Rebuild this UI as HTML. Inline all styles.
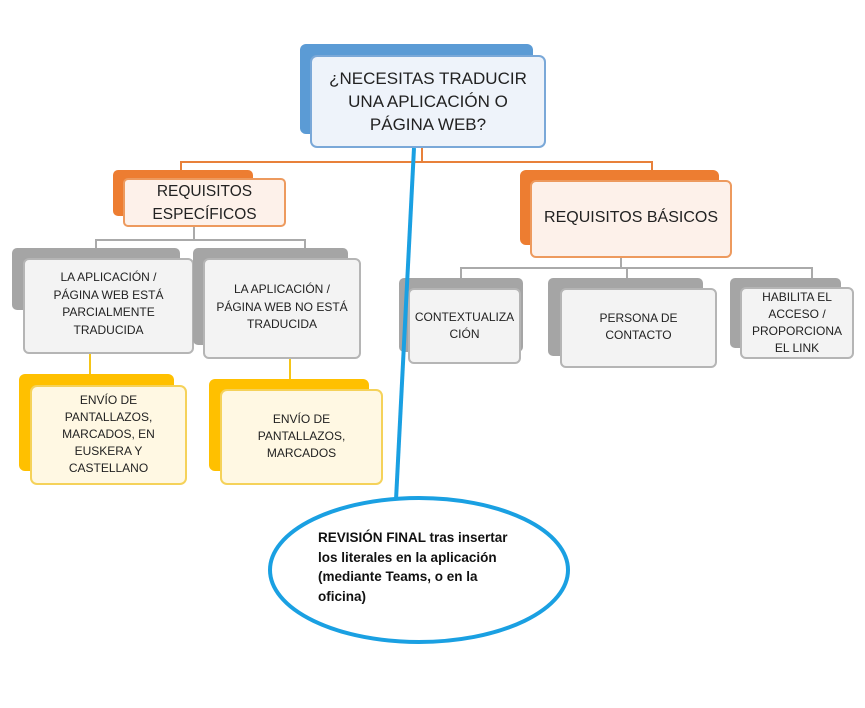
<!DOCTYPE html>
<html><head><meta charset="utf-8"><style>
body{margin:0;width:865px;height:708px;background:#fff;position:relative;overflow:hidden;font-family:"Liberation Sans",sans-serif;}
.a{position:absolute;box-sizing:border-box;}
.t{text-align:center;color:#222;white-space:nowrap;}
.ln{position:absolute;}
</style></head><body>
<!-- connectors -->
<div class="ln" style="left:421px;top:147px;width:2px;height:15px;background:#e8813a"></div>
<div class="ln" style="left:180px;top:161px;width:473px;height:2px;background:#e8813a"></div>
<div class="ln" style="left:180px;top:161px;width:2px;height:12px;background:#e8813a"></div>
<div class="ln" style="left:651px;top:161px;width:2px;height:12px;background:#e8813a"></div>

<div class="ln" style="left:193px;top:226px;width:2px;height:14px;background:#aaa"></div>
<div class="ln" style="left:95px;top:239px;width:211px;height:2px;background:#aaa"></div>
<div class="ln" style="left:95px;top:239px;width:2px;height:10px;background:#aaa"></div>
<div class="ln" style="left:304px;top:239px;width:2px;height:10px;background:#aaa"></div>

<div class="ln" style="left:620px;top:257px;width:2px;height:11px;background:#aaa"></div>
<div class="ln" style="left:460px;top:267px;width:353px;height:2px;background:#aaa"></div>
<div class="ln" style="left:460px;top:267px;width:2px;height:12px;background:#aaa"></div>
<div class="ln" style="left:626px;top:267px;width:2px;height:12px;background:#aaa"></div>
<div class="ln" style="left:811px;top:267px;width:2px;height:12px;background:#aaa"></div>

<div class="ln" style="left:89px;top:353px;width:2px;height:21px;background:#f5c518"></div>
<div class="ln" style="left:289px;top:358px;width:2px;height:21px;background:#f5c518"></div>

<!-- top -->
<div class="a" style="left:300px;top:44px;width:233px;height:90px;background:#5b9bd5;border-radius:6px"></div>
<div class="a t" style="left:310px;top:55px;width:236px;height:93px;background:#eef3fa;border:2px solid #7aa8d8;border-radius:7px;font-size:17px;line-height:23px;padding-top:10px">¿NECESITAS TRADUCIR<br>UNA APLICACIÓN O<br>PÁGINA WEB?</div>

<!-- orange -->
<div class="a" style="left:113px;top:170px;width:140px;height:46px;background:#ed7d31;border-radius:5px"></div>
<div class="a t" style="left:123px;top:178px;width:163px;height:49px;background:#fdf1ea;border:2px solid #ed9a5e;border-radius:5px;font-size:15.5px;line-height:23px;padding-top:0px">REQUISITOS<br>ESPECÍFICOS</div>
<div class="a" style="left:520px;top:170px;width:199px;height:75px;background:#ed7d31;border-radius:6px"></div>
<div class="a t" style="left:530px;top:180px;width:202px;height:78px;background:#fdf1ea;border:2px solid #ed9a5e;border-radius:6px;font-size:16px;line-height:20px;padding-top:26px">REQUISITOS BÁSICOS</div>

<!-- gray -->
<div class="a" style="left:12px;top:248px;width:168px;height:62px;background:#a5a5a5;border-radius:5px"></div>
<div class="a t" style="left:23px;top:258px;width:171px;height:96px;background:#f3f3f3;border:2px solid #b5b5b5;border-radius:6px;font-size:12px;line-height:17.5px;padding-top:9px">LA APLICACIÓN /<br>PÁGINA WEB ESTÁ<br>PARCIALMENTE<br>TRADUCIDA</div>
<div class="a" style="left:193px;top:248px;width:155px;height:97px;background:#a5a5a5;border-radius:5px"></div>
<div class="a t" style="left:203px;top:258px;width:158px;height:101px;background:#f3f3f3;border:2px solid #b5b5b5;border-radius:6px;font-size:12px;line-height:17.5px;padding-top:21px">LA APLICACIÓN /<br>PÁGINA WEB NO ESTÁ<br>TRADUCIDA</div>

<div class="a" style="left:399px;top:278px;width:124px;height:74px;background:#a5a5a5;border-radius:5px"></div>
<div class="a t" style="left:408px;top:288px;width:113px;height:76px;background:#f3f3f3;border:2px solid #b5b5b5;border-radius:6px;font-size:12px;line-height:16.5px;padding-top:19px">CONTEXTUALIZA<br>CIÓN</div>
<div class="a" style="left:548px;top:278px;width:155px;height:78px;background:#a5a5a5;border-radius:5px"></div>
<div class="a t" style="left:560px;top:288px;width:157px;height:80px;background:#f3f3f3;border:2px solid #b5b5b5;border-radius:6px;font-size:12px;line-height:17px;padding-top:20px">PERSONA DE<br>CONTACTO</div>
<div class="a" style="left:730px;top:278px;width:111px;height:70px;background:#a5a5a5;border-radius:5px"></div>
<div class="a t" style="left:740px;top:287px;width:114px;height:72px;background:#f3f3f3;border:2px solid #b5b5b5;border-radius:6px;font-size:12px;line-height:17px;padding-top:0px">HABILITA EL<br>ACCESO /<br>PROPORCIONA<br>EL LINK</div>

<!-- yellow -->
<div class="a" style="left:19px;top:374px;width:155px;height:97px;background:#ffc000;border-radius:6px"></div>
<div class="a t" style="left:30px;top:385px;width:157px;height:100px;background:#fff8e3;border:2px solid #f5d25a;border-radius:7px;font-size:12px;line-height:17px;padding-top:5px">ENVÍO DE<br>PANTALLAZOS,<br>MARCADOS, EN<br>EUSKERA Y<br>CASTELLANO</div>
<div class="a" style="left:209px;top:379px;width:160px;height:92px;background:#ffc000;border-radius:6px"></div>
<div class="a t" style="left:220px;top:389px;width:163px;height:96px;background:#fff8e3;border:2px solid #f5d25a;border-radius:7px;font-size:12px;line-height:17px;padding-top:20px">ENVÍO DE<br>PANTALLAZOS,<br>MARCADOS</div>

<!-- blue line + ellipse -->
<svg class="a" style="left:0;top:0" width="865" height="708">
<line x1="414" y1="148" x2="396" y2="500" stroke="#1aa0e2" stroke-width="4"/>
<ellipse cx="419" cy="570" rx="149" ry="72" fill="#fff" stroke="#1aa0e2" stroke-width="4"/>
</svg>
<div class="a" style="left:318px;top:528px;width:250px;font-weight:bold;font-size:13.5px;line-height:19.5px;color:#111;white-space:nowrap">REVISIÓN FINAL tras insertar<br>los literales en la aplicación<br>(mediante Teams, o en la<br>oficina)</div>
</body></html>
